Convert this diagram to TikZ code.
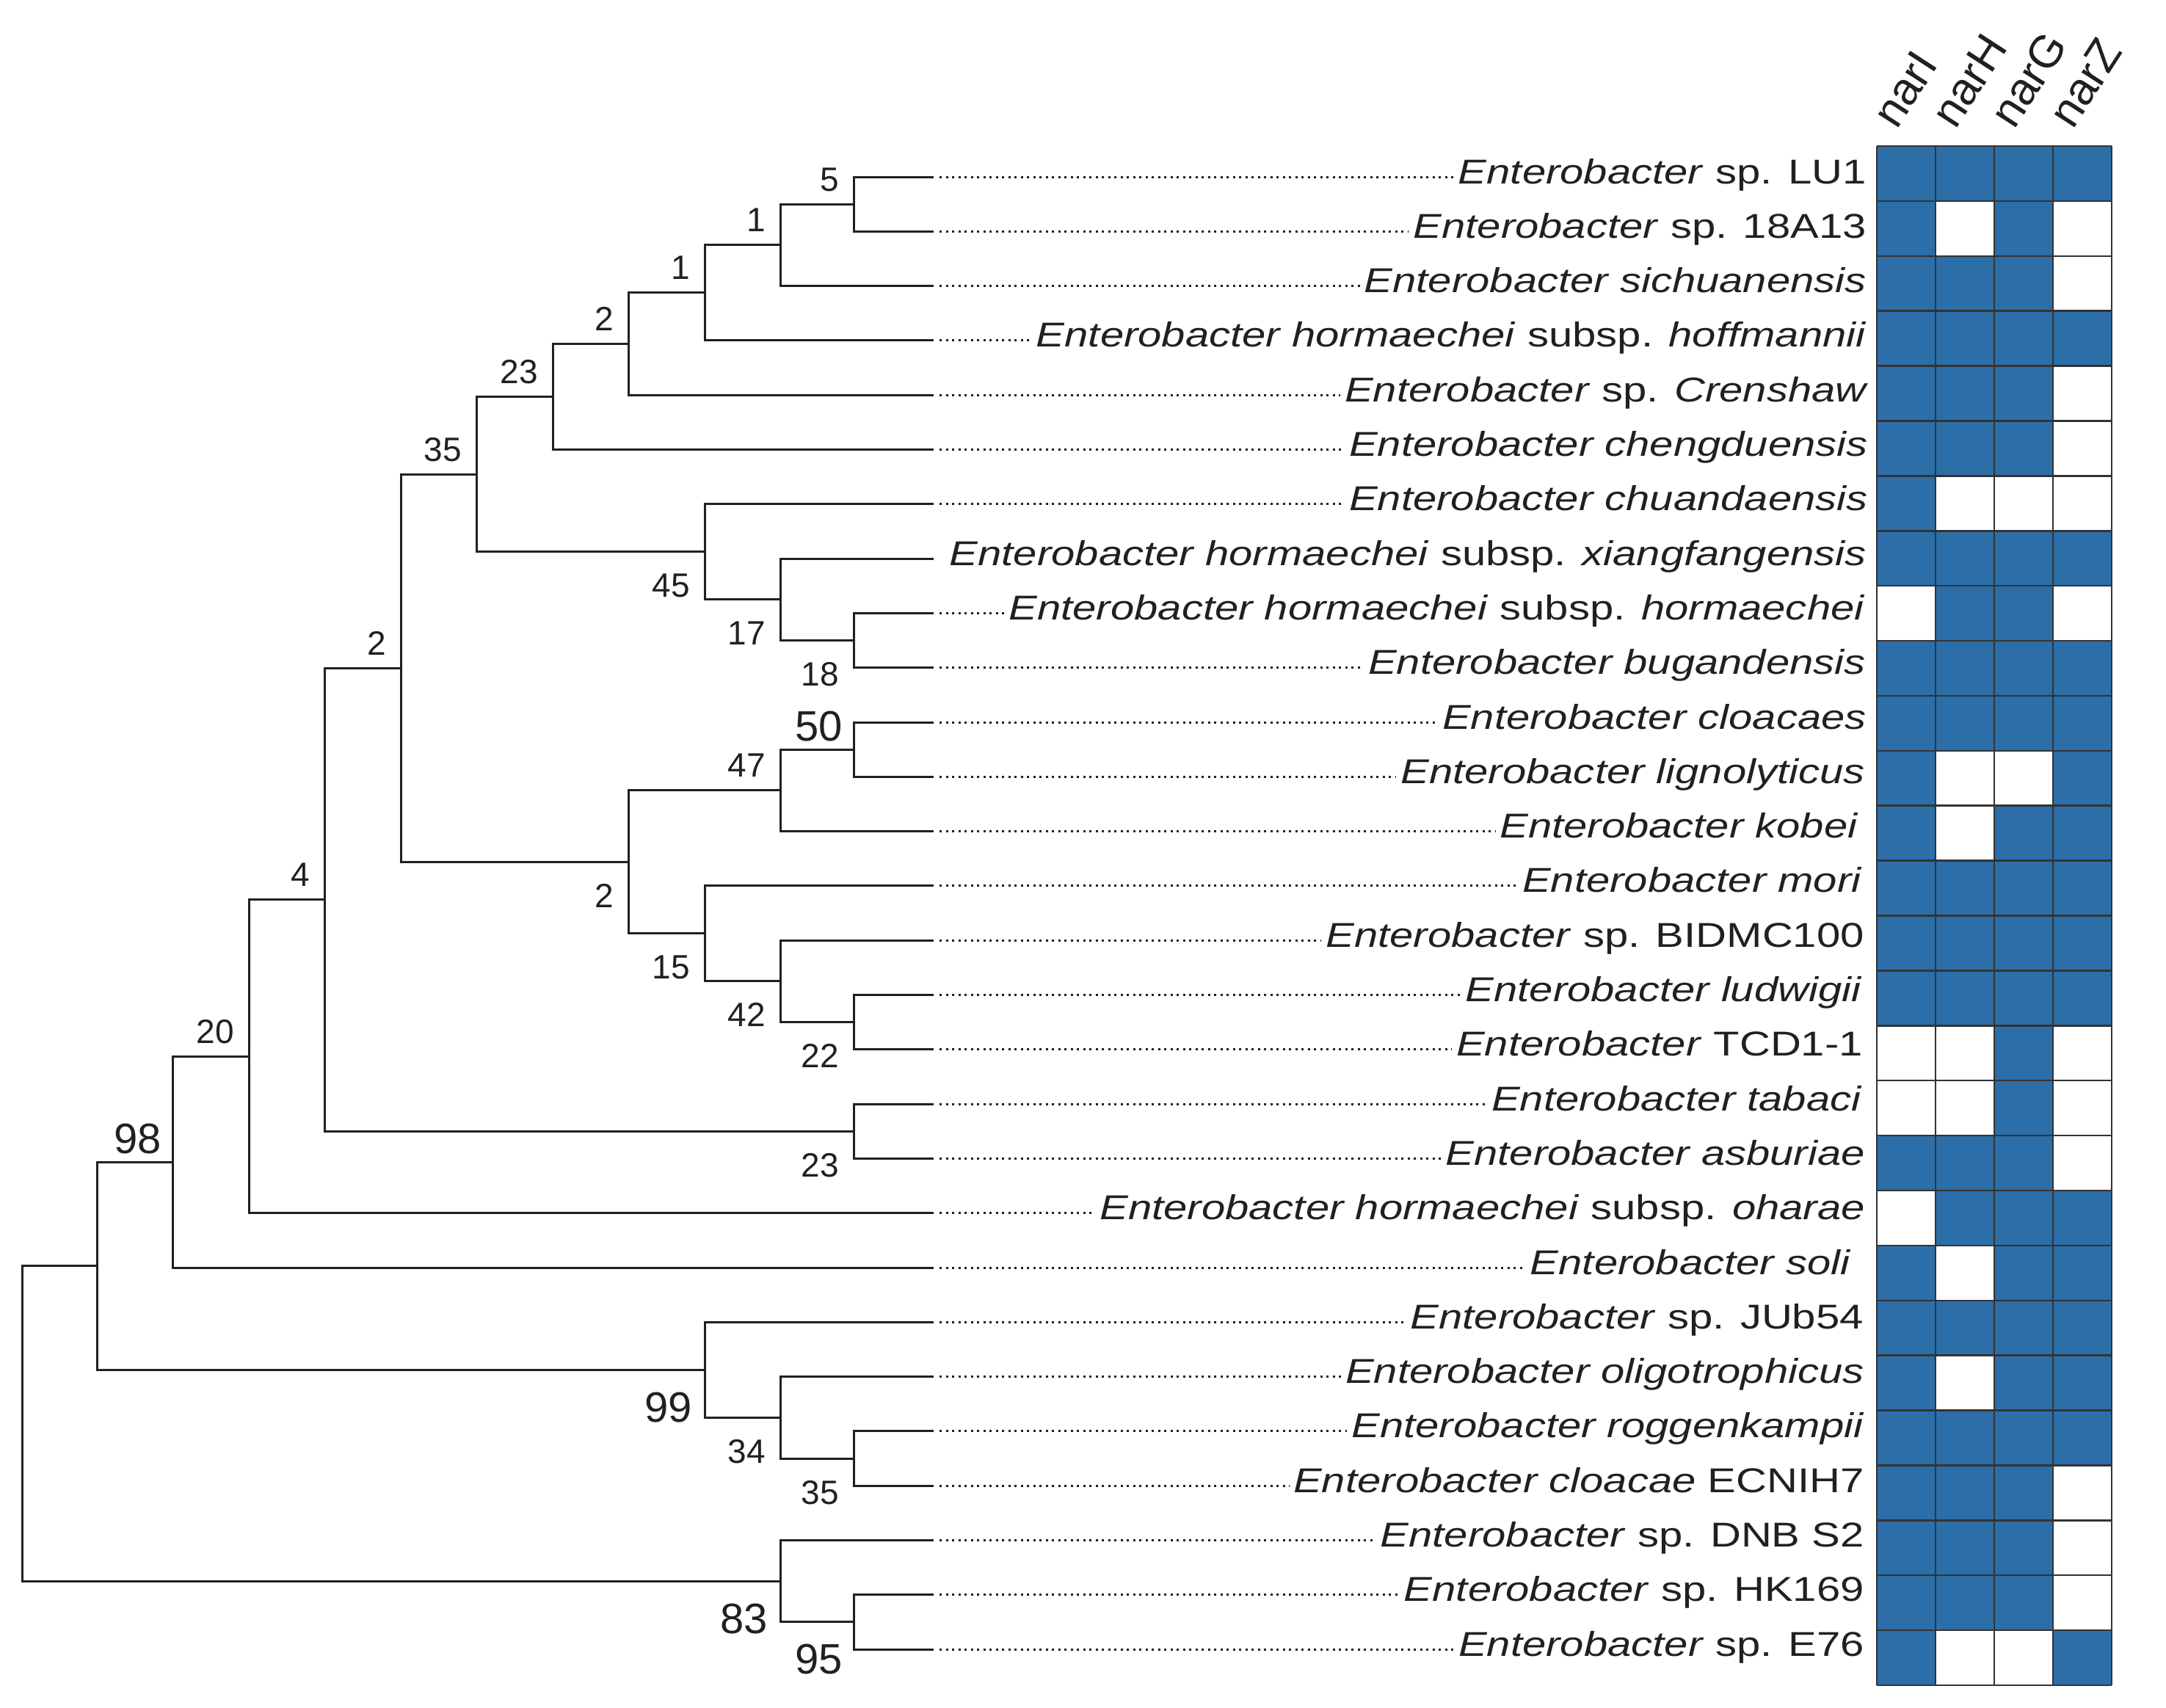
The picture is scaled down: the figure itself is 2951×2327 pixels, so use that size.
\documentclass[tikz,border=0pt]{standalone}
\usepackage{fontspec}
\setmainfont{Liberation Sans}
\newfontfamily\labfont[FakeStretch=1.235]{Liberation Sans}
\newfontfamily\numfont{Liberation Sans}
\usetikzlibrary{calc}
\definecolor{treeline}{HTML}{231F20}
\definecolor{cellblue}{HTML}{2C6EA8}
\definecolor{gridcol}{HTML}{333333}
\begin{document}
\begin{tikzpicture}[x=1pt,y=-1pt,
  branch/.style={draw=treeline, line width=3pt, line cap=rect},
  dotline/.style={draw=treeline, line width=3pt, dash pattern=on 3pt off 5.5pt},
  taxon/.style={font=\labfont\fontsize{47}{47}\selectfont, anchor=base east, inner sep=0pt, text=treeline},
  bsa/.style={font=\numfont\fontsize{46}{46}\selectfont, anchor=base east, inner sep=0pt, text=treeline},
  bsb/.style={font=\numfont\fontsize{58}{58}\selectfont, anchor=base east, inner sep=0pt, text=treeline},
  gene/.style={font=\numfont\fontsize{62}{62}\selectfont, anchor=base west, inner sep=0pt, rotate=57, text=treeline},
  gridl/.style={draw=gridcol, line width=2.5pt},
]
\useasboundingbox (0,0) rectangle (2951,2327);

% tips
\foreach \i in {0,...,27} \coordinate (t\i) at (1270,{241+74.3*\i});

% internal nodes
\coordinate (K) at (1163,278.15);
\coordinate (J) at (1063,333.9);
\coordinate (I) at (960,398.9);
\coordinate (H) at (856,468.5);
\coordinate (G) at (753,540.5);
\coordinate (N) at (1163,872.55);
\coordinate (M) at (1063,816.8);
\coordinate (L) at (960,751.8);
\coordinate (F) at (649,646.2);
\coordinate (Q) at (1163,1021.15);
\coordinate (P) at (1063,1076.9);
\coordinate (T) at (1163,1392.65);
\coordinate (S) at (1063,1336.9);
\coordinate (R) at (960,1271.9);
\coordinate (O) at (856,1174.4);
\coordinate (E) at (546,910.3);
\coordinate (U) at (1163,1541.25);
\coordinate (D) at (442,1225.8);
\coordinate (C) at (339,1439.2);
\coordinate (B) at (235,1583.1);
\coordinate (X) at (1163,1987.05);
\coordinate (W) at (1063,1931.3);
\coordinate (V) at (960,1866.3);
\coordinate (A) at (132,1724.7);
\coordinate (Z) at (1163,2209.95);
\coordinate (Y) at (1063,2154.2);
\coordinate (root) at (30,1939.5);

% branches
\foreach \p/\c in {K/t0,K/t1,J/K,J/t2,I/J,I/t3,H/I,H/t4,G/H,G/t5,
  N/t8,N/t9,M/t7,M/N,L/t6,L/M,F/G,F/L,
  Q/t10,Q/t11,P/Q,P/t12,T/t15,T/t16,S/t14,S/T,R/t13,R/S,O/P,O/R,E/F,E/O,
  U/t17,U/t18,D/E,D/U,C/D,C/t19,B/C,B/t20,
  X/t23,X/t24,W/t22,W/X,V/t21,V/W,A/B,A/V,
  Z/t26,Z/t27,Y/t25,Y/Z,root/A,root/Y}
  \draw[branch] (\p) |- (\c);

% taxon labels
\node[taxon] (lab0) at (2543,{241+9}) {\textit{Enterobacter} sp. LU1};
\node[taxon] (lab1) at (2543,{241+74.3*1+9}) {\textit{Enterobacter} sp. 18A13};
\node[taxon] (lab2) at (2543,{241+74.3*2+9}) {\textit{Enterobacter sichuanensis}};
\node[taxon] (lab3) at (2543,{241+74.3*3+9}) {\textit{Enterobacter hormaechei} subsp. \textit{hoffmannii}};
\node[taxon] (lab4) at (2546,{241+74.3*4+9}) {\textit{Enterobacter} sp. \textit{Crenshaw}};
\node[taxon] (lab5) at (2545,{241+74.3*5+9}) {\textit{Enterobacter chengduensis}};
\node[taxon] (lab6) at (2545,{241+74.3*6+9}) {\textit{Enterobacter chuandaensis}};
\node[taxon] (lab7) at (2543,{241+74.3*7+9}) {\textit{Enterobacter hormaechei} subsp. \textit{xiangfangensis}};
\node[taxon] (lab8) at (2541,{241+74.3*8+9}) {\textit{Enterobacter hormaechei} subsp. \textit{hormaechei}};
\node[taxon] (lab9) at (2542,{241+74.3*9+9}) {\textit{Enterobacter bugandensis}};
\node[taxon] (lab10) at (2543,{241+74.3*10+9}) {\textit{Enterobacter cloacaes}};
\node[taxon] (lab11) at (2541,{241+74.3*11+9}) {\textit{Enterobacter lignolyticus}};
\node[taxon] (lab12) at (2532,{241+74.3*12+9}) {\textit{Enterobacter kobei}};
\node[taxon] (lab13) at (2537,{241+74.3*13+9}) {\textit{Enterobacter mori}};
\node[taxon] (lab14) at (2540,{241+74.3*14+9}) {\textit{Enterobacter} sp. BIDMC100};
\node[taxon] (lab15) at (2537,{241+74.3*15+9}) {\textit{Enterobacter ludwigii}};
\node[taxon] (lab16) at (2538,{241+74.3*16+9}) {\textit{Enterobacter} TCD1-1};
\node[taxon] (lab17) at (2537,{241+74.3*17+9}) {\textit{Enterobacter tabaci}};
\node[taxon] (lab18) at (2541,{241+74.3*18+9}) {\textit{Enterobacter asburiae}};
\node[taxon] (lab19) at (2541,{241+74.3*19+9}) {\textit{Enterobacter hormaechei} subsp. \textit{oharae}};
\node[taxon] (lab20) at (2522,{241+74.3*20+9}) {\textit{Enterobacter soli}};
\node[taxon] (lab21) at (2539,{241+74.3*21+9}) {\textit{Enterobacter} sp. JUb54};
\node[taxon] (lab22) at (2540,{241+74.3*22+9}) {\textit{Enterobacter oligotrophicus}};
\node[taxon] (lab23) at (2540,{241+74.3*23+9}) {\textit{Enterobacter roggenkampii}};
\node[taxon] (lab24) at (2540,{241+74.3*24+9}) {\textit{Enterobacter cloacae} ECNIH7};
\node[taxon] (lab25) at (2540,{241+74.3*25+9}) {\textit{Enterobacter} sp. DNB S2};
\node[taxon] (lab26) at (2540,{241+74.3*26+9}) {\textit{Enterobacter} sp. HK169};
\node[taxon] (lab27) at (2540,{241+74.3*27+9}) {\textit{Enterobacter} sp. E76};

% dotted leaders
\foreach \i in {0,1,2,3,4,5,6,8,9,10,11,12,13,14,15,16,17,18,19,20,21,22,23,24,25,26,27}
  \draw[dotline] ([xshift=10pt]t\i) -- ($(lab\i.west |- t\i)+(-6,0)$);

% bootstrap values: above-left
\node[bsa] (bK) at ([xshift=-20pt,yshift=18pt]K) {5};
\node[bsa] (bJ) at ([xshift=-20pt,yshift=18pt]J) {1};
\node[bsa] (bI) at ([xshift=-20pt,yshift=18pt]I) {1};
\node[bsa] (bH) at ([xshift=-20pt,yshift=18pt]H) {2};
\node[bsa] (bG) at ([xshift=-20pt,yshift=18pt]G) {23};
\node[bsa] (bF) at ([xshift=-20pt,yshift=18pt]F) {35};
\node[bsa] (bE) at ([xshift=-20pt,yshift=18pt]E) {2};
\node[bsa] (bD) at ([xshift=-20pt,yshift=18pt]D) {4};
\node[bsa] (bC) at ([xshift=-20pt,yshift=18pt]C) {20};
\node[bsa] (bP) at ([xshift=-20pt,yshift=18pt]P) {47};
\node[bsb] (bB) at ([xshift=-15pt,yshift=12pt]B) {98};
\node[bsb] (bQ) at ([xshift=-15pt,yshift=12pt]Q) {50};
% below-left
\node[bsa] (bL) at ([xshift=-20pt,yshift=-62pt]L) {45};
\node[bsa] (bM) at ([xshift=-20pt,yshift=-62pt]M) {17};
\node[bsa] (bN) at ([xshift=-20pt,yshift=-62pt]N) {18};
\node[bsa] (bO) at ([xshift=-20pt,yshift=-62pt]O) {2};
\node[bsa] (bR) at ([xshift=-20pt,yshift=-62pt]R) {15};
\node[bsa] (bS) at ([xshift=-20pt,yshift=-62pt]S) {42};
\node[bsa] (bT) at ([xshift=-20pt,yshift=-62pt]T) {22};
\node[bsa] (bU) at ([xshift=-20pt,yshift=-62pt]U) {23};
\node[bsa] (bW) at ([xshift=-20pt,yshift=-62pt]W) {34};
\node[bsa] (bX) at ([xshift=-20pt,yshift=-62pt]X) {35};
\node[bsb] (bV) at ([xshift=-17pt,yshift=-71pt]V) {99};
\node[bsb] (bY) at ([xshift=-17pt,yshift=-71pt]Y) {83};
\node[bsb] (bZ) at ([xshift=-15pt,yshift=-71pt]Z) {95};

% presence/absence grid
\def\rowh{74.893}
\foreach \r/\pat in {0/{1,1,1,1},1/{1,0,1,0},2/{1,1,1,0},3/{1,1,1,1},4/{1,1,1,0},
  5/{1,1,1,0},6/{1,0,0,0},7/{1,1,1,1},8/{0,1,1,0},9/{1,1,1,1},10/{1,1,1,1},
  11/{1,0,0,1},12/{1,0,1,1},13/{1,1,1,1},14/{1,1,1,1},15/{1,1,1,1},16/{0,0,1,0},
  17/{0,0,1,0},18/{1,1,1,0},19/{0,1,1,1},20/{1,0,1,1},21/{1,1,1,1},22/{1,0,1,1},
  23/{1,1,1,1},24/{1,1,1,0},25/{1,1,1,0},26/{1,1,1,0},27/{1,0,0,1}}
{
  \foreach \v [count=\c from 0] in \pat {
    \ifnum\v=1
      \fill[cellblue] ({2557+80*\c},{199+\rowh*\r}) rectangle ++(80,\rowh);
    \fi
  }
}
\foreach \c in {0,...,4} \draw[gridl] ({2557+80*\c},199) -- ({2557+80*\c},2296);
\foreach \r in {0,...,28} \draw[gridl] (2557,{199+\rowh*\r}) -- (2877,{199+\rowh*\r});

% gene headers
\node[gene] (gI) at (2584,178) {narI};
\node[gene] (gH) at (2664,178) {narH};
\node[gene] (gG) at (2744,178) {narG};
\node[gene] (gZ) at (2824,178) {narZ};
\end{tikzpicture}
\end{document}
